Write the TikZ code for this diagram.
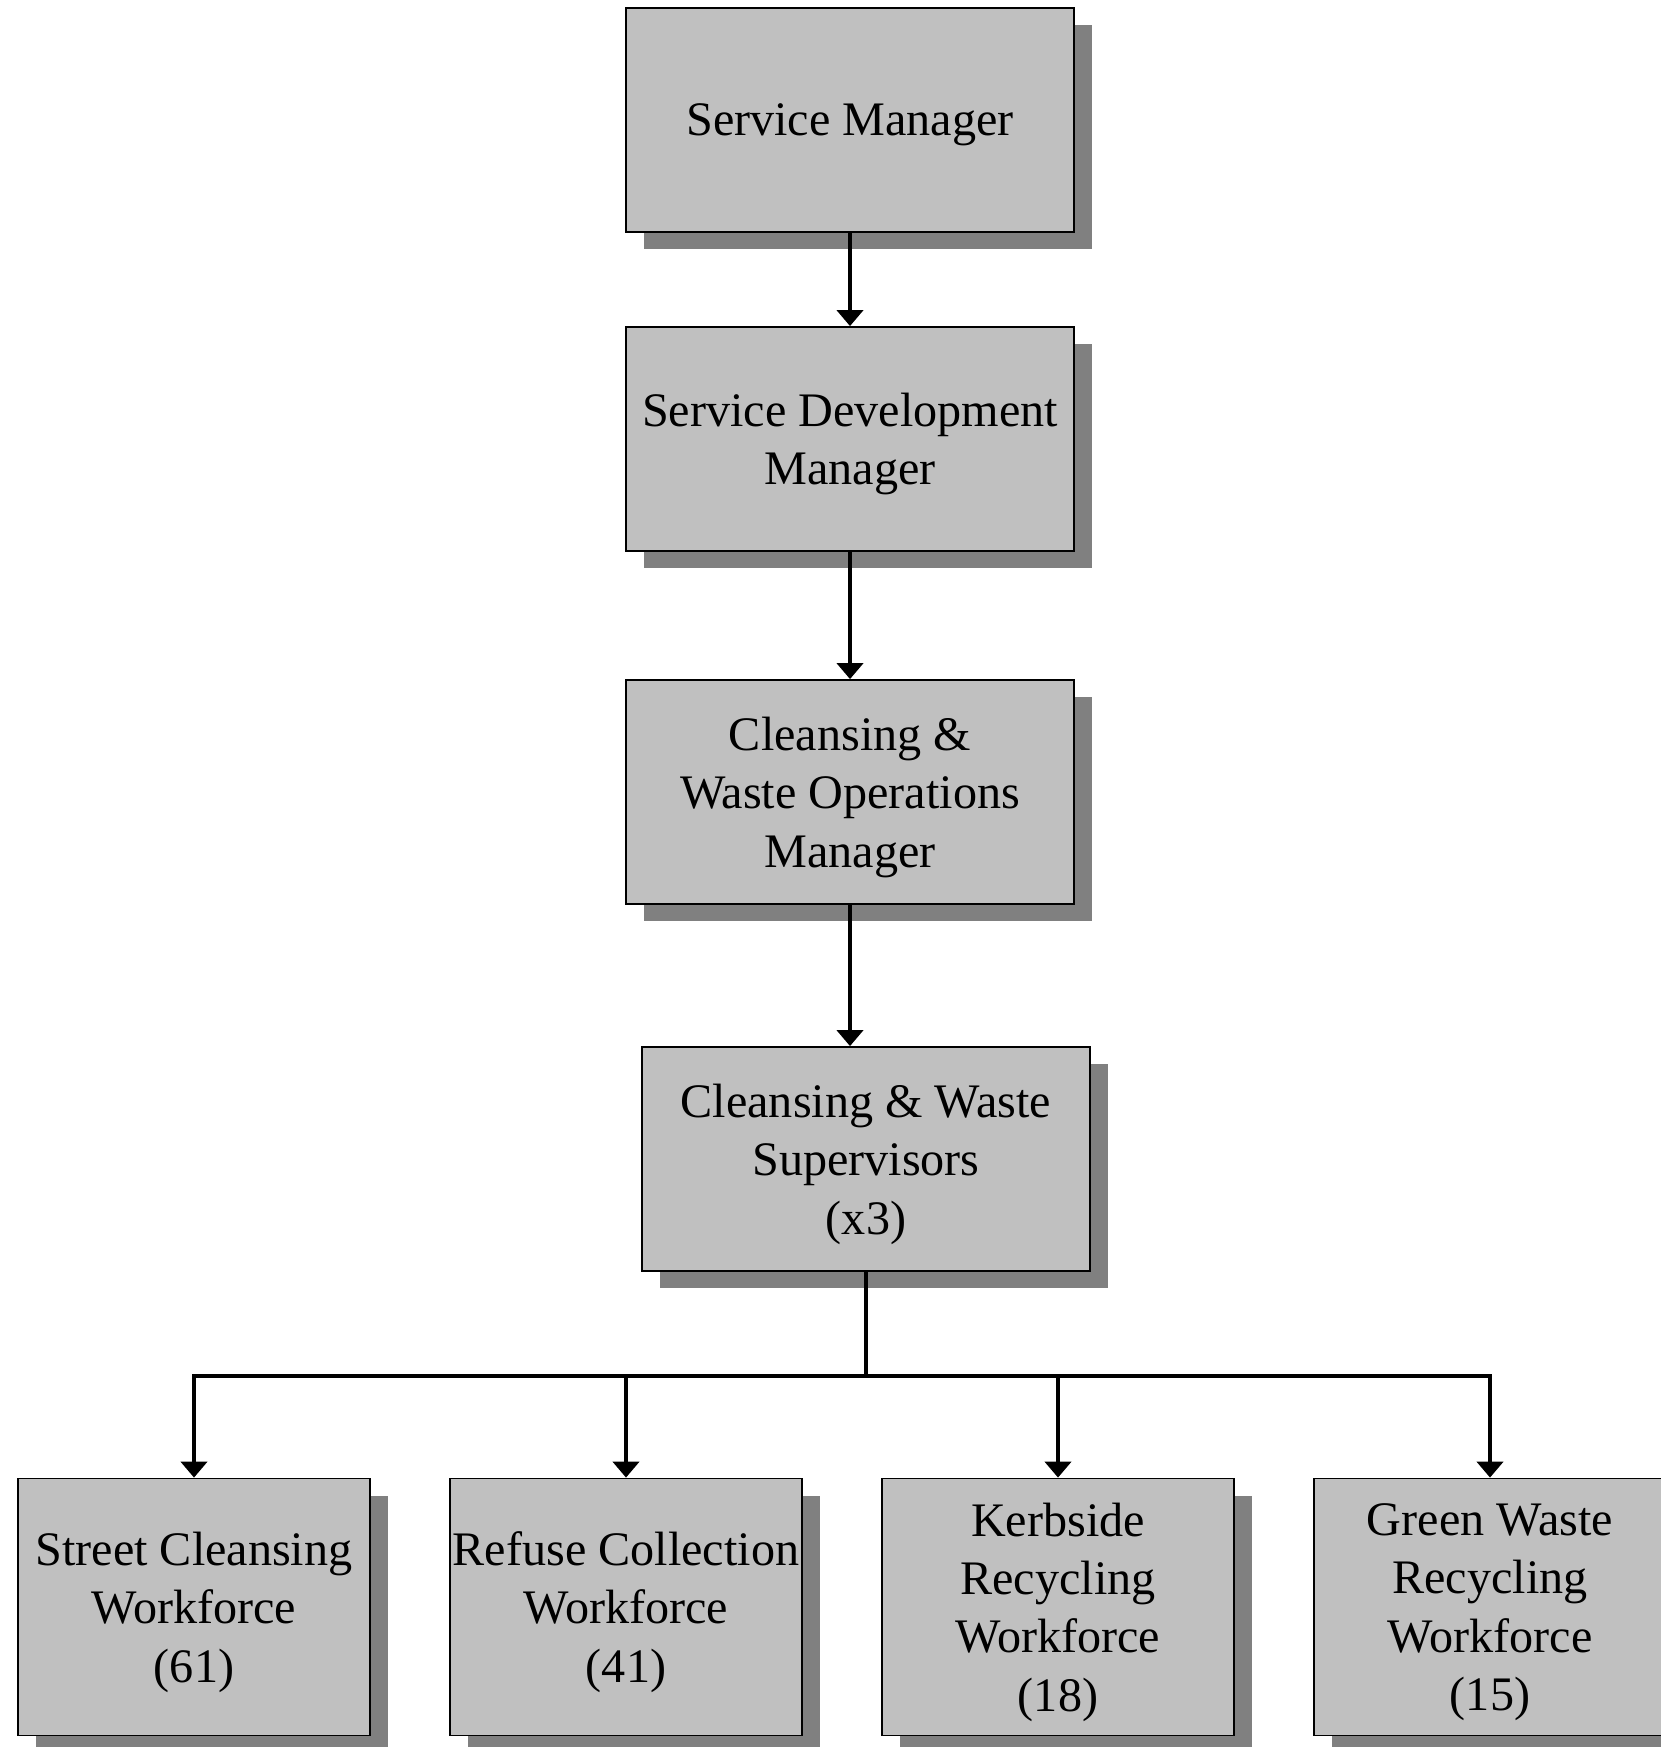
\documentclass[tikz,border=0pt]{standalone}
\usepackage{fontspec}
\setmainfont{Liberation Serif}
\usetikzlibrary{arrows.meta,shadows}
\definecolor{boxgray}{HTML}{C0C0C0}
\definecolor{shadegray}{HTML}{808080}

\begin{document}
\begin{tikzpicture}[
  box/.style={rectangle, draw, line width=0.5pt, fill=boxgray, align=center,
    inner sep=0pt, text depth=-3.5pt, font=\fontsize{13.7pt}{16.6pt}\selectfont,
    drop shadow={shadow xshift=0.18cm, shadow yshift=-0.17cm, fill=shadegray, opacity=1}},
  mgrBox/.style={box, minimum width=4.48cm, minimum height=2.24cm},
  crewBox/.style={box, minimum width=3.52cm, minimum height=2.57cm},
  e/.style={line width=1.2pt, -{Triangle[width=0.26cm,length=0.16cm]}}
]
\useasboundingbox (0,0) rectangle (16.61,-17.47);

% --- management chain ---
\node[mgrBox] (sm)  at (8.50,-1.20)  {Service Manager};
\node[mgrBox] (sdm) at (8.50,-4.39)  {Service Development\\Manager};
\node[mgrBox] (cwo) at (8.50,-7.92)  {Cleansing \&\\Waste Operations\\Manager};
\node[mgrBox] (sup) at (8.66,-11.59) {Cleansing \& Waste\\Supervisors\\(x3)};

\draw[e] (sm)--(sdm);
\draw[e] (sdm)--(cwo);
\draw[e] (cwo.south)--(cwo.south |- sup.north);

% --- workforces ---
\node[crewBox] (street) at (1.94,-16.07)  {Street Cleansing\\Workforce\\(61)};
\node[crewBox] (refuse) at (6.26,-16.07)  {Refuse Collection\\Workforce\\(41)};
\node[crewBox] (kerb)   at (10.58,-16.07) {Kerbside\\Recycling\\Workforce\\(18)};
\node[crewBox] (green)  at (14.90,-16.07) {Green Waste\\Recycling\\Workforce\\(15)};

\coordinate (bus) at (8.66,-13.76);
\draw[line width=1.2pt] (sup.south)--(bus);
\foreach \w in {street,refuse,kerb,green}
  \draw[e] (bus) -| (\w.north);

\end{tikzpicture}
\end{document}
